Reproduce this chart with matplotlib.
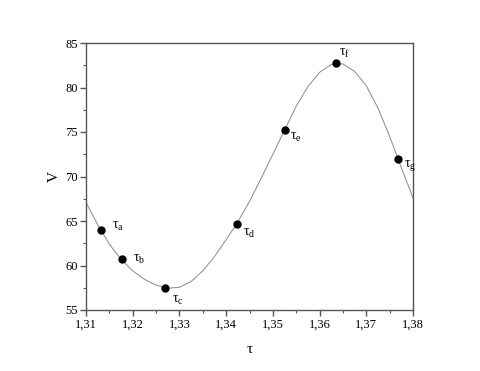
import matplotlib
matplotlib.use("Agg")
import matplotlib.pyplot as plt
from matplotlib.ticker import MultipleLocator, FuncFormatter

plt.rcParams['font.family'] = ['Liberation Serif', 'DejaVu Serif']
plt.rcParams['mathtext.fontset'] = 'custom'
plt.rcParams['mathtext.rm'] = 'Liberation Serif'
plt.rcParams['mathtext.it'] = 'Liberation Serif'

# measured points
tau_points = [1.3132, 1.3176, 1.3269, 1.3423, 1.3525, 1.3635, 1.3767]
v_points = [64.0, 60.7, 57.45, 64.65, 75.25, 82.7, 71.95]
point_labels = ['a', 'b', 'c', 'd', 'e', 'f', 'g']

# fitted curve
tau_curve = [1.3100, 1.3125, 1.3150, 1.3175, 1.3200, 1.3225, 1.3250, 1.3275,
             1.3300, 1.3325, 1.3350, 1.3375, 1.3400, 1.3425, 1.3450, 1.3475,
             1.3500, 1.3525, 1.3550, 1.3575, 1.3600, 1.3625, 1.3650, 1.3675,
             1.3700, 1.3725, 1.3750, 1.3775, 1.3800]
v_curve = [67.1, 64.6, 62.4, 60.7, 59.4, 58.45, 57.8, 57.45,
           57.55, 58.2, 59.4, 61.0, 62.9, 64.9, 67.2, 69.8,
           72.5, 75.2, 77.9, 80.1, 81.7, 82.6, 82.65, 81.8,
           80.2, 77.7, 74.5, 71.0, 67.6]

# label offsets in pixels (dx, dy)
label_offsets = [(11, 0.5), (11, -2.5), (7.5, -14.5), (6, -11.5),
                 (5.5, -10.5), (3.5, 7.5), (6.5, -7.5)]

fig = plt.figure(figsize=(4.8, 3.71), dpi=100)
ax = fig.add_axes([86/480, 61/371, 327/480, 267/371])

ax.plot(tau_curve, v_curve, color='#909090', lw=0.75, zorder=2,
        solid_joinstyle='round')
ax.plot(tau_points, v_points, 'o', color='black', ms=5, zorder=3)

for t, v, lab, (dx, dy) in zip(tau_points, v_points, point_labels, label_offsets):
    ax.annotate(r'$\tau_{\mathrm{%s}}$' % lab, xy=(t, v), xytext=(dx, dy),
                textcoords='offset pixels', ha='left', va='baseline',
                fontsize=10)

ax.set_xlim(1.31, 1.38)
ax.set_ylim(55, 85)
ax.xaxis.set_major_locator(MultipleLocator(0.01))
ax.xaxis.set_minor_locator(MultipleLocator(0.005))
ax.yaxis.set_major_locator(MultipleLocator(5))
ax.yaxis.set_minor_locator(MultipleLocator(2.5))
ax.xaxis.set_major_formatter(FuncFormatter(lambda x, p: f'{x:.2f}'.replace('.', ',')))
ax.yaxis.set_major_formatter(FuncFormatter(lambda y, p: f'{y:.0f}'))

for s in ax.spines.values():
    s.set_color('#555555')
    s.set_linewidth(1.0)
ax.tick_params(which='both', direction='out', color='#555555', top=False, right=False)
ax.tick_params(which='major', length=4, width=1, labelsize=9, pad=2)
ax.tick_params(which='minor', length=2.5, width=0.8)

ax.set_xlabel(r'$\tau$', fontsize=11, labelpad=9)
ax.set_ylabel('V', fontsize=11, labelpad=3)

fig.savefig('out.png', dpi=100)
